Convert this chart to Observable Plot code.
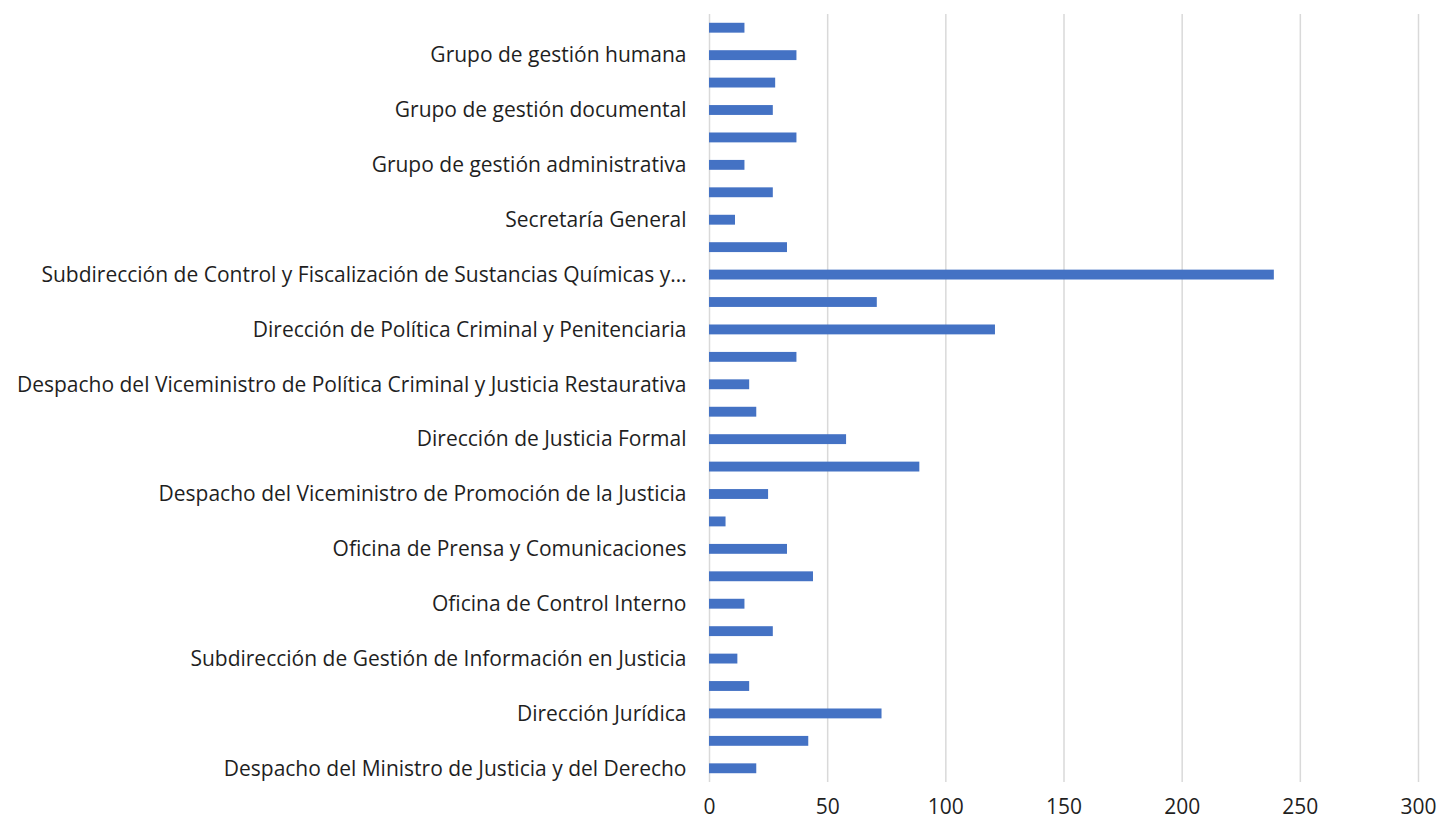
<!DOCTYPE html>
<html>
<head>
<meta charset="utf-8">
<script src="https://cdn.jsdelivr.net/npm/d3@7"></script>
<script src="https://cdn.jsdelivr.net/npm/@observablehq/plot@0.6"></script>
<style>
  html, body { margin: 0; padding: 0; background: #fff; }
  #chart svg { display: block; }
</style>
</head>
<body>
<div id="chart"></div>
<script>
// Categories from top to bottom; blank entries are rows whose label is skipped on the axis.
const labels = [
  "",
  "Grupo de gestión humana",
  "",
  "Grupo de gestión documental",
  "",
  "Grupo de gestión administrativa",
  "",
  "Secretaría General",
  "",
  "Subdirección de Control y Fiscalización de Sustancias Químicas y…",
  "",
  "Dirección de Política Criminal y Penitenciaria",
  "",
  "Despacho del Viceministro de Política Criminal y Justicia Restaurativa",
  "",
  "Dirección de Justicia Formal",
  "",
  "Despacho del Viceministro de Promoción de la Justicia",
  "",
  "Oficina de Prensa y Comunicaciones",
  "",
  "Oficina de Control Interno",
  "",
  "Subdirección de Gestión de Información en Justicia",
  "",
  "Dirección Jurídica",
  "",
  "Despacho del Ministro de Justicia y del Derecho"
];
const values = [15, 37, 28, 27, 37, 15, 27, 11, 33, 239, 71, 121, 37, 17, 20, 58, 89, 25, 7, 33, 44, 15, 27, 12, 17, 73, 42, 20];
const xTicks = [0, 50, 100, 150, 200, 250, 300];

const data = values.map((v, i) => ({ row: i, value: v }));

const chart = Plot.plot({
  width: 1438,
  height: 823,
  marginLeft: 709,
  marginRight: 20,
  marginTop: 14,
  marginBottom: 41,
  style: { fontFamily: "'Open Sans', Lato, sans-serif", fontSize: "21px", color: "#1f1f1f", background: "#fff" },
  x: { domain: [0, 300] },
  y: { domain: d3.range(labels.length), paddingInner: 0.64, paddingOuter: 0.32, round: false },
  marks: [
    Plot.gridX(xTicks, { stroke: "#d9d9d9", strokeOpacity: 1, strokeWidth: 1.5 }),
    Plot.barX(data, { x: "value", y: "row", fill: "#4472C4" }),
    Plot.axisY({ tickSize: 0, tickPadding: 23, tickFormat: i => labels[i], label: null, fontSize: 21 }),
    Plot.axisX({ ticks: xTicks, tickSize: 0, tickPadding: 17, label: null, fontSize: 21 })
  ]
});
document.getElementById("chart").append(chart);
</script>
</body>
</html>
